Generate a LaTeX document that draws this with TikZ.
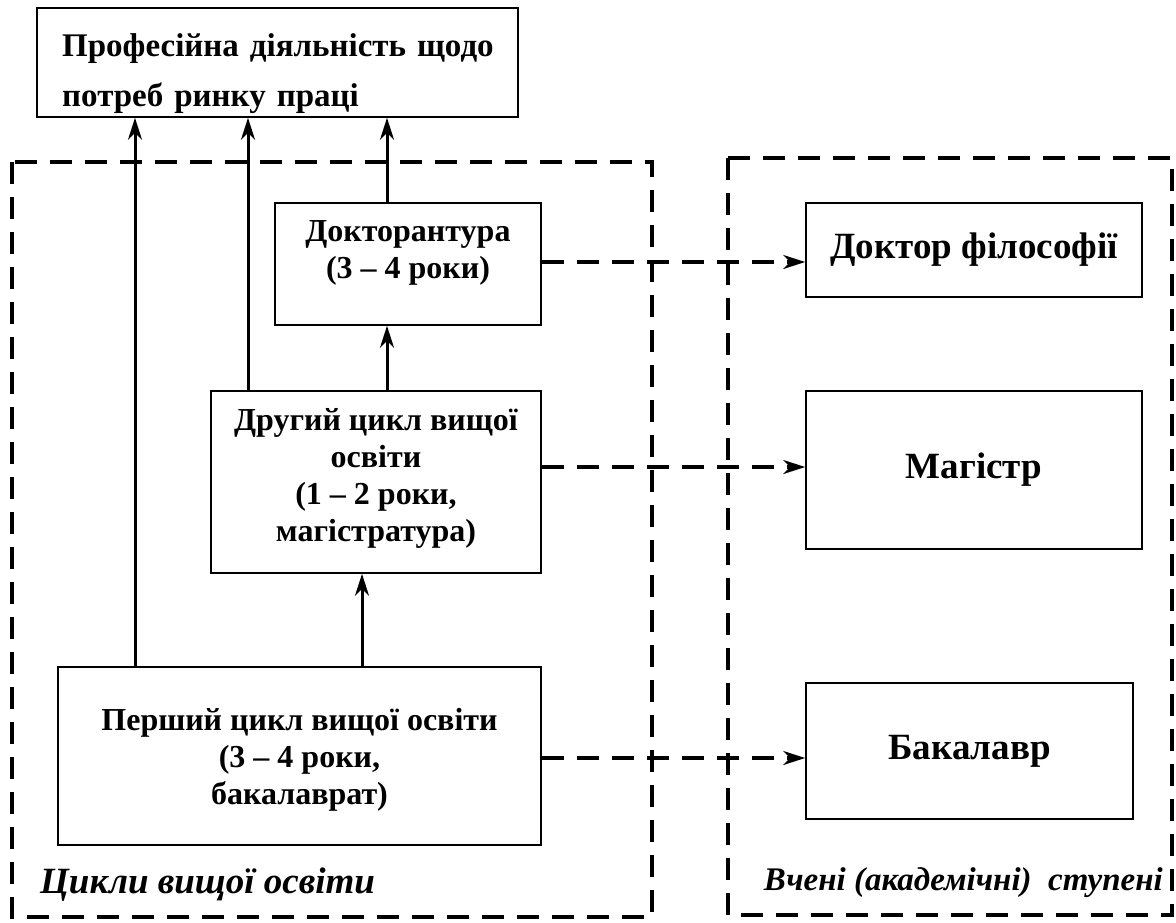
\documentclass[tikz,border=0pt]{standalone}
\usepackage{fontspec}
\setmainfont{Liberation Serif}
\usetikzlibrary{arrows.meta}
\begin{document}
\begin{tikzpicture}[x=1pt,y=-1pt,
  box/.style={draw, line width=1.6pt, align=center, inner sep=0pt, font=\bfseries\fontsize{32}{37}\selectfont},
  boxtext/.style={align=center, inner sep=0pt, font=\bfseries\fontsize{32}{37}\selectfont},
  bigbox/.style={box, font=\bfseries\fontsize{37}{40}\selectfont},
  frame/.style={line width=3.5pt, dash pattern=on 22pt off 13pt},
  solidarrow/.style={line width=3pt, -{Stealth[length=22pt,width=14pt,inset=7pt]}},
  dasharrow/.style={line width=3.5pt, dash pattern=on 22pt off 13pt, -{Stealth[length=22pt,width=14pt,inset=7pt]}},
  caption/.style={inner sep=0pt}]
\useasboundingbox (0,0) rectangle (1176,922);
\fill[white] (0,0) rectangle (1176,922);
% frames
\draw[frame] (12,162) rectangle (652,917);
\draw[frame] (728,158) rectangle (1172,915);
% nodes
\node[box, minimum width=481pt, minimum height=109pt] (prof) at (277.5,62.5) {};
\node[boxtext, anchor=base west, align=left, text width=440pt,
  font=\bfseries\fontsize{33}{50}\selectfont] (proft) at (62,56) {Професійна діяльність щодо\\потреб ринку праці};
\node[box, minimum width=266pt, minimum height=122pt] (dokt) at (408,264) {};
\node[boxtext] (doktt) at (408,253) {Докторантура\\(3 – 4 роки)};
\node[box, minimum width=330pt, minimum height=182pt] (drug) at (376,482) {};
\node[boxtext] (drugt) at (376,478) {Другий цикл вищої\\освіти\\(1 – 2 роки,\\магістратура)};
\node[box, minimum width=483pt, minimum height=178pt] (persh) at (299.5,756) {};
\node[boxtext] (persht) at (299.5,760) {Перший цикл вищої освіти\\(3 – 4 роки,\\бакалаврат)};
\node[bigbox, minimum width=336pt, minimum height=94pt] (phd) at (974,250) {Доктор філософії};
\node[bigbox, minimum width=336pt, minimum height=158pt] (mag) at (974,470) {Магістр};
\node[bigbox, minimum width=327pt, minimum height=136pt] (bak) at (969.5,751) {Бакалавр};
% captions
\node[caption, anchor=base west, font=\bfseries\itshape\fontsize{37}{40}\selectfont] (capL) at (40,893) {Цикли вищої освіти};
\node[caption, anchor=base east, font=\bfseries\itshape\fontsize{33}{36}\selectfont] (capR) at (1163,890) {Вчені (академічні)\ \ ступені};
% x positions of vertical arrows
\coordinate (xa) at (135,0);
\coordinate (xb) at (248,0);
\coordinate (xc) at (387,0);
\coordinate (xd) at (362,0);
% solid arrows
\draw[solidarrow] (persh.north -| xa) -- (prof.south -| xa);
\draw[solidarrow] (drug.north -| xb) -- (prof.south -| xb);
\draw[solidarrow] (dokt.north -| xc) -- (prof.south -| xc);
\draw[solidarrow] (drug.north -| xc) -- (dokt.south -| xc);
\draw[solidarrow] (persh.north -| xd) -- (drug.south -| xd);
% dashed arrows
\draw[dasharrow] ([yshift=2pt]dokt.east) -- ([yshift=2pt]dokt.east -| phd.west);
\draw[dasharrow] ([yshift=3pt]mag.west -| drug.east) -- ([yshift=3pt]mag.west);
\draw[dasharrow] ([yshift=-2pt]persh.east) -- ([yshift=-2pt]persh.east -| bak.west);
\end{tikzpicture}
\end{document}
